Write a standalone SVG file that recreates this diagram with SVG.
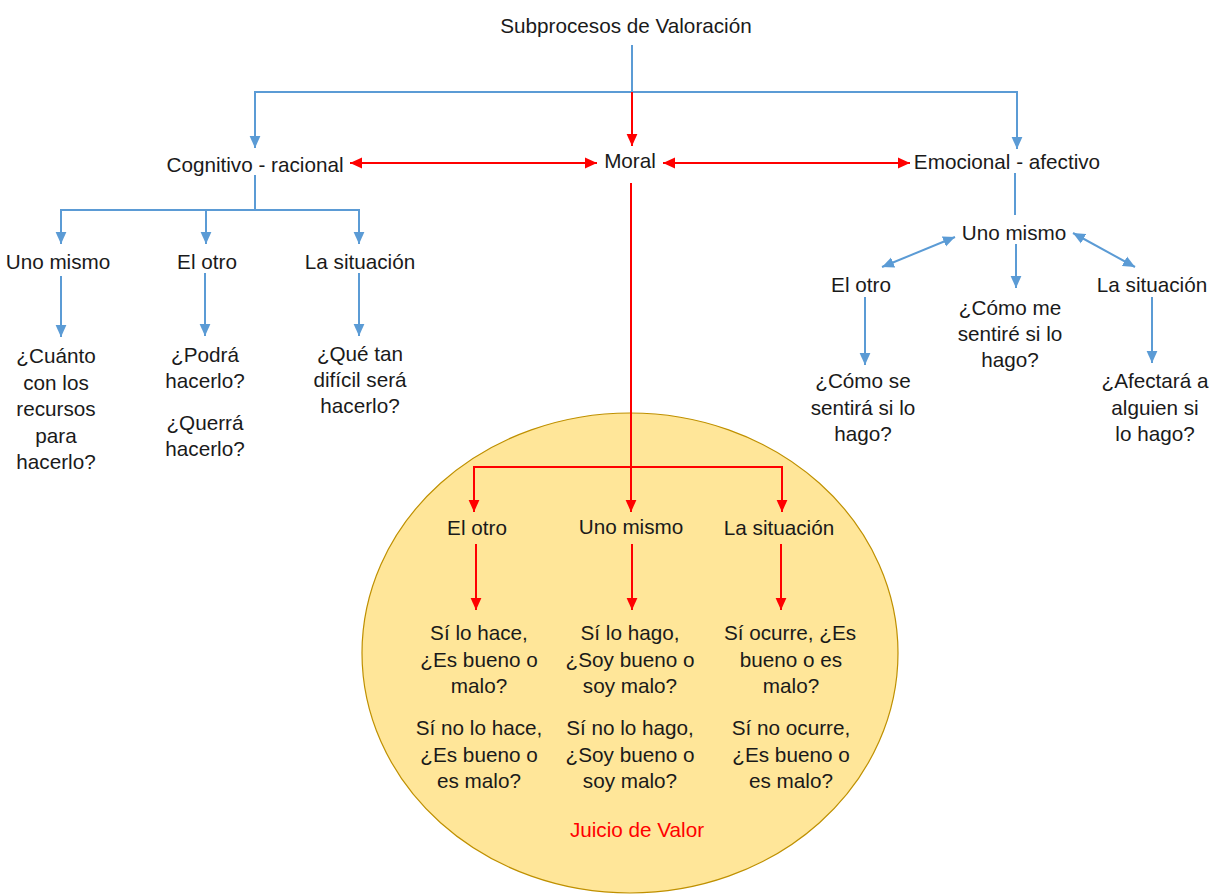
<svg xmlns="http://www.w3.org/2000/svg" width="1211" height="895" viewBox="0 0 1211 895">
  <style>
    text { font-family: "Liberation Sans", Arial, sans-serif; font-size: 20.7px; fill: #1a1a1a; text-anchor: middle; }
    .red-text { fill: #ff0000; }
    .blue { fill: none; stroke: #5b9bd5; stroke-width: 2; }
    .red { fill: none; stroke: #ff0000; stroke-width: 2; }
  </style>
  <defs>
    <marker id="arrow-blue" markerUnits="userSpaceOnUse" markerWidth="12" markerHeight="12" viewBox="0 0 10 10" refX="10" refY="5" orient="auto-start-reverse">
      <path d="M0,0.5 L10,5 L0,9.5 z" fill="#5b9bd5"/>
    </marker>
    <marker id="arrow-red" markerUnits="userSpaceOnUse" markerWidth="12" markerHeight="12" viewBox="0 0 10 10" refX="10" refY="5" orient="auto-start-reverse">
      <path d="M0,0.5 L10,5 L0,9.5 z" fill="#ff0000"/>
    </marker>
  </defs>

  <rect width="1211" height="895" fill="#ffffff"/>

  <!-- moral judgement area -->
  <ellipse id="juicio-area" cx="630" cy="653" rx="268" ry="240" fill="#ffe699" stroke="#bf9000" stroke-width="1.2"/>

  <g id="connectors">
    <!-- root to the three branches -->
    <path class="blue" d="M632,45 V92"/>
    <path class="blue" d="M632,92 H255 V148" marker-end="url(#arrow-blue)"/>
    <path class="blue" d="M632,92 H1017 V149" marker-end="url(#arrow-blue)"/>
    <path class="red" d="M632,92 V146" marker-end="url(#arrow-red)"/>
    <path class="red" d="M350,163 H597" marker-start="url(#arrow-red)" marker-end="url(#arrow-red)"/>
    <path class="red" d="M663,163 H910" marker-start="url(#arrow-red)" marker-end="url(#arrow-red)"/>

    <!-- cognitive branch -->
    <path class="blue" d="M255,175 V210"/>
    <path class="blue" d="M255,210 H61 V244" marker-end="url(#arrow-blue)"/>
    <path class="blue" d="M206,210 V244" marker-end="url(#arrow-blue)"/>
    <path class="blue" d="M255,210 H359 V244" marker-end="url(#arrow-blue)"/>
    <path class="blue" d="M61,276 V337" marker-end="url(#arrow-blue)"/>
    <path class="blue" d="M205,273 V336" marker-end="url(#arrow-blue)"/>
    <path class="blue" d="M359,273 V336" marker-end="url(#arrow-blue)"/>

    <!-- emotional branch -->
    <path class="blue" d="M1015,173 V215"/>
    <path class="blue" d="M955,237 L882,267" marker-start="url(#arrow-blue)" marker-end="url(#arrow-blue)"/>
    <path class="blue" d="M1073,233 L1135,267" marker-start="url(#arrow-blue)" marker-end="url(#arrow-blue)"/>
    <path class="blue" d="M1016,244 V288" marker-end="url(#arrow-blue)"/>
    <path class="blue" d="M865,297 V365" marker-end="url(#arrow-blue)"/>
    <path class="blue" d="M1152,297 V363" marker-end="url(#arrow-blue)"/>

    <!-- moral branch -->
    <path class="red" d="M631,183 V512" marker-end="url(#arrow-red)"/>
    <path class="red" d="M631,467 H474 V512" marker-end="url(#arrow-red)"/>
    <path class="red" d="M631,467 H782 V512" marker-end="url(#arrow-red)"/>
    <path class="red" d="M476,544 V610" marker-end="url(#arrow-red)"/>
    <path class="red" d="M632,544 V610" marker-end="url(#arrow-red)"/>
    <path class="red" d="M781,544 V610" marker-end="url(#arrow-red)"/>
  </g>

  <g id="root"><text x="626" y="33">Subprocesos de Valoración</text></g>
  <g id="cognitivo"><text x="255" y="172">Cognitivo - racional</text></g>
  <g id="moral"><text x="630" y="168">Moral</text></g>
  <g id="emocional"><text x="1007" y="169">Emocional - afectivo</text></g>

  <!-- cognitive children -->
  <g id="cog-uno"><text x="58" y="269">Uno mismo</text></g>
  <g id="cog-otro"><text x="207" y="269">El otro</text></g>
  <g id="cog-situacion"><text x="360" y="269">La situación</text></g>
  <g id="cog-uno-q">
    <text x="56" y="363">¿Cuánto</text>
    <text x="56" y="389.5">con los</text>
    <text x="56" y="416">recursos</text>
    <text x="56" y="442.5">para</text>
    <text x="56" y="469">hacerlo?</text>
  </g>
  <g id="cog-otro-q">
    <text x="205" y="362">¿Podrá</text>
    <text x="205" y="388">hacerlo?</text>
    <text x="205" y="430">¿Querrá</text>
    <text x="205" y="456">hacerlo?</text>
  </g>
  <g id="cog-situacion-q">
    <text x="360" y="361">¿Qué tan</text>
    <text x="360" y="387">difícil será</text>
    <text x="360" y="413">hacerlo?</text>
  </g>

  <!-- emotional children -->
  <g id="emo-uno"><text x="1014" y="240">Uno mismo</text></g>
  <g id="emo-otro"><text x="861" y="292">El otro</text></g>
  <g id="emo-situacion"><text x="1152" y="292">La situación</text></g>
  <g id="emo-uno-q">
    <text x="1010" y="315">¿Cómo me</text>
    <text x="1010" y="341">sentiré si lo</text>
    <text x="1010" y="367">hago?</text>
  </g>
  <g id="emo-otro-q">
    <text x="863" y="388">¿Cómo se</text>
    <text x="863" y="415">sentirá si lo</text>
    <text x="863" y="441">hago?</text>
  </g>
  <g id="emo-situacion-q">
    <text x="1155" y="388">¿Afectará a</text>
    <text x="1155" y="415">alguien si</text>
    <text x="1155" y="441">lo hago?</text>
  </g>

  <!-- moral children -->
  <g id="mor-otro"><text x="477" y="535">El otro</text></g>
  <g id="mor-uno"><text x="631" y="534">Uno mismo</text></g>
  <g id="mor-situacion"><text x="779" y="535">La situación</text></g>
  <g id="mor-otro-q">
    <text x="479" y="640">Sí lo hace,</text>
    <text x="479" y="667">¿Es bueno o</text>
    <text x="479" y="693">malo?</text>
    <text x="479" y="735">Sí no lo hace,</text>
    <text x="479" y="762">¿Es bueno o</text>
    <text x="479" y="788">es malo?</text>
  </g>
  <g id="mor-uno-q">
    <text x="630" y="640">Sí lo hago,</text>
    <text x="630" y="667">¿Soy bueno o</text>
    <text x="630" y="693">soy malo?</text>
    <text x="630" y="735">Sí no lo hago,</text>
    <text x="630" y="762">¿Soy bueno o</text>
    <text x="630" y="788">soy malo?</text>
  </g>
  <g id="mor-situacion-q">
    <text x="790" y="640">Sí ocurre, ¿Es</text>
    <text x="791" y="667">bueno o es</text>
    <text x="791" y="693">malo?</text>
    <text x="791" y="735">Sí no ocurre,</text>
    <text x="791" y="762">¿Es bueno o</text>
    <text x="791" y="788">es malo?</text>
  </g>
  <g id="juicio-label"><text class="red-text" x="637" y="837">Juicio de Valor</text></g>
</svg>
